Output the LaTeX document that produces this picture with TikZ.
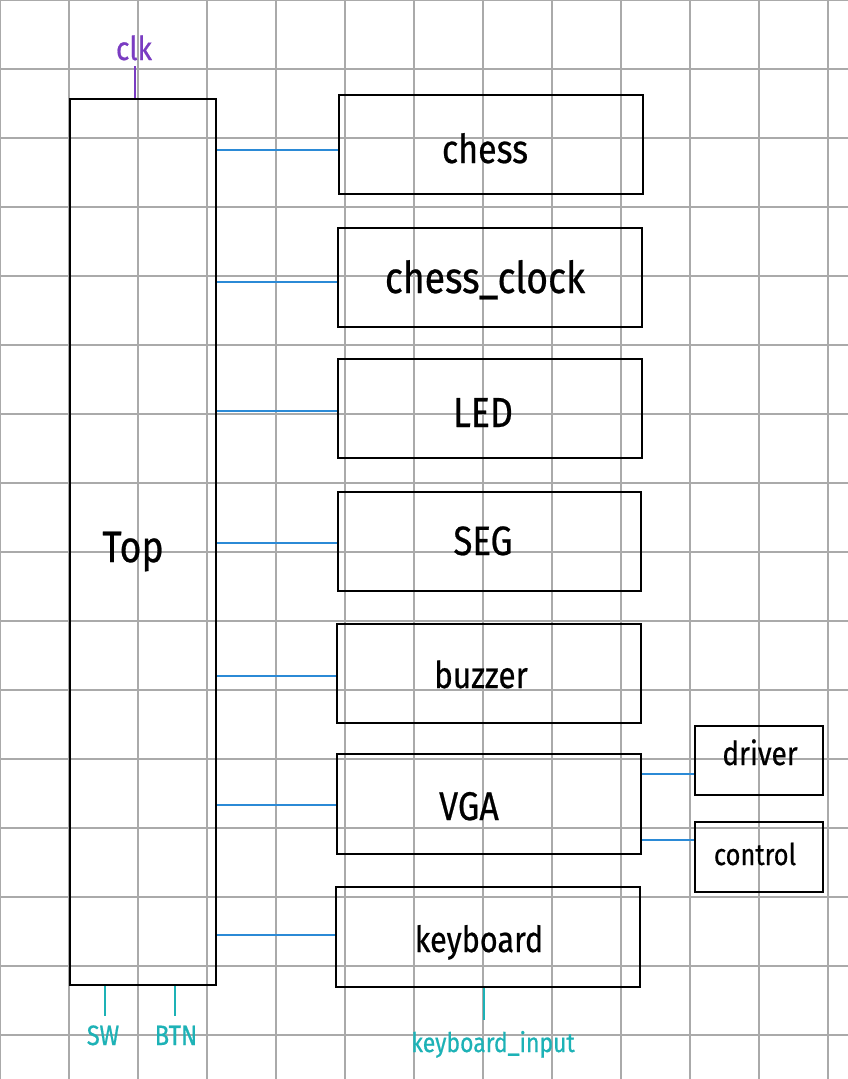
\documentclass[tikz,border=0pt]{standalone}
\usepackage{fontspec}
\newfontfamily\hand[FakeStretch=0.85,FakeBold=0.6]{Fira Sans}
\definecolor{gridc}{HTML}{AAAAAA}
\definecolor{wireblue}{HTML}{2B8AD6}
\definecolor{clkpurple}{HTML}{7A3CC2}
\definecolor{ioteal}{HTML}{1DB2B6}
\newcommand{\fs}[1]{\fontsize{#1}{#1}\selectfont}
\begin{document}
\begin{tikzpicture}[x=1pt,y=-1pt,
  gridline/.style={draw=gridc,line width=1.4pt},
  modbox/.style={draw=black,line width=2.3pt,rectangle,inner sep=0pt},
  txt/.style={font=\hand,inner sep=0pt,anchor=base},
  wire/.style={draw=wireblue,line width=2.6pt},
  clkwire/.style={draw=clkpurple,line width=2.4pt},
  iowire/.style={draw=ioteal,line width=2.4pt},
  clklbl/.style={txt,text=clkpurple},
  iolbl/.style={txt,text=ioteal}
]
\useasboundingbox (0,0) rectangle (848,1079);
\fill[white] (0,0) rectangle (848,1079);
% grid
\foreach \gx in {0,69,...,828} {\draw[gridline] (\gx,0) -- (\gx,1079);}
\foreach \gy in {0,69,...,1035} {\draw[gridline] (0,\gy) -- (848,\gy);}
% modules
\node[modbox,minimum width=146pt,minimum height=886pt] (top) at (143,542) {};
\node[modbox,minimum width=304pt,minimum height=99pt] (chess) at (491,144.5) {};
\node[modbox,minimum width=304pt,minimum height=99pt] (clock) at (490,277.5) {};
\node[modbox,minimum width=304pt,minimum height=99pt] (led) at (490,408.5) {};
\node[modbox,minimum width=303pt,minimum height=99pt] (seg) at (489.5,541.5) {};
\node[modbox,minimum width=304pt,minimum height=99pt] (buzzer) at (489,673.5) {};
\node[modbox,minimum width=304pt,minimum height=100pt] (vga) at (489,804) {};
\node[modbox,minimum width=304pt,minimum height=100pt] (kbd) at (488,937) {};
\node[modbox,minimum width=128pt,minimum height=69pt] (driver) at (759,760.5) {};
\node[modbox,minimum width=128pt,minimum height=70pt] (control) at (759,857) {};
% module texts
\node[txt,font=\hand\fs{44}] (top-t) at (133,562) {Top};
\node[txt,font=\hand\fs{40}] (chess-t) at (485,163) {chess};
\node[txt,font=\hand\fs{44}] (clock-t) at (485,293) {chess\_clock};
\node[txt,font=\hand\fs{42}] (led-t) at (483,427) {LED};
\node[txt,font=\hand\fs{41}] (seg-t) at (483,555) {SEG};
\node[txt,font=\hand\fs{37}] (buzzer-t) at (481,688) {buzzer};
\node[txt,font=\hand\fs{40}] (vga-t) at (469,820) {VGA};
\node[txt,font=\hand\fs{36}] (kbd-t) at (479,952) {keyboard};
\node[txt,font=\hand\fs{33}] (driver-t) at (760,765) {driver};
\node[txt,font=\hand\fs{30}] (control-t) at (755,865) {control};
% wires from Top
\foreach \m/\s in {chess/-5.5,clock/-4.5,led/-2.5,seg/-1.5,buzzer/-2.5,vga/-1,kbd/2} {
  \coordinate (\m-in) at ([yshift=\s pt]\m.west);
  \draw[wire] (top.east |- \m-in) -- (\m-in);
}
% VGA submodules
\coordinate (driver-in) at ([yshift=-13.5pt]driver.west);
\coordinate (control-in) at ([yshift=17pt]control.west);
\draw[wire] (vga.east |- driver-in) -- (driver-in);
\draw[wire] (vga.east |- control-in) -- (control-in);
% clk
\coordinate (clkend) at (135,66);
\draw[clkwire] (clkend) -- (clkend |- top.north);
\node[clklbl,font=\hand\fs{33}] (clk) at (134,60) {clk};
% SW / BTN
\coordinate (swend) at (105,1016);
\coordinate (btnend) at (175,1016);
\draw[iowire] (swend |- top.south) -- (swend);
\draw[iowire] (btnend |- top.south) -- (btnend);
\node[iolbl,font=\hand\fs{28}] (sw) at (103,1045) {SW};
\node[iolbl,font=\hand\fs{28}] (btn) at (176,1045) {BTN};
% keyboard input
\coordinate (kiend) at (484,1020);
\draw[iowire] (kiend |- kbd.south) -- (kiend);
\node[iolbl,font=\hand\fs{27}] (kin) at (493,1052) {keyboard\_input};
\end{tikzpicture}
\end{document}
